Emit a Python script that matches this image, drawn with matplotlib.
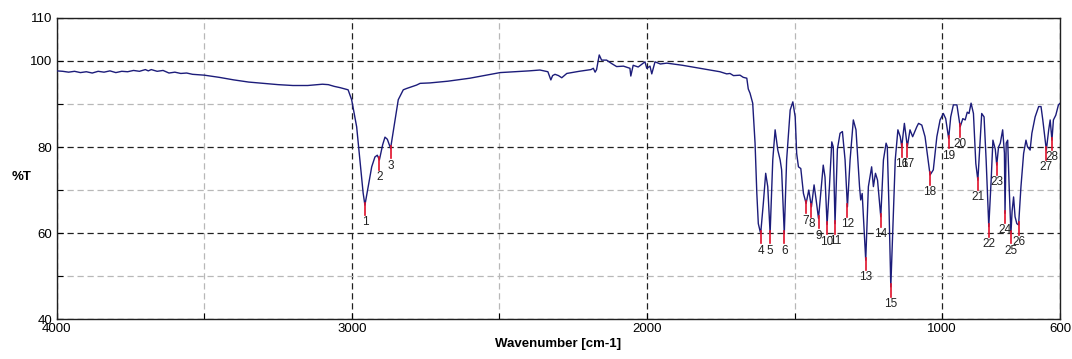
import matplotlib
matplotlib.use("Agg")
import matplotlib.pyplot as plt

#Espectro IR: número de onda (cm-1) y transmitancia (%T)
numeroOnda = [4000, 3980, 3960, 3940, 3920, 3900, 3880, 3860, 3840, 3820, 3800, 3780, 3760, 3740, 3720,
              3700, 3690, 3680, 3660, 3640, 3620, 3600, 3580, 3560, 3540, 3500, 3450, 3400, 3350, 3300,
              3250, 3200, 3150, 3100, 3080, 3060, 3040, 3013, 3001, 2984, 2973, 2962, 2956, 2945, 2933,
              2922, 2914, 2907, 2896, 2888, 2880, 2869, 2854, 2843, 2826, 2815, 2781, 2769, 2736, 2675,
              2600, 2498, 2400, 2363, 2336, 2326, 2320, 2312, 2300, 2289, 2272, 2230, 2190, 2182, 2176,
              2171, 2162, 2154, 2137, 2120, 2103, 2080, 2058, 2055, 2047, 2030, 2007, 2001, 1990, 1984,
              1973, 1955, 1933, 1880, 1820, 1753, 1730, 1719, 1707, 1685, 1674, 1662, 1657, 1651, 1642,
              1634, 1628, 1623, 1615, 1606, 1598, 1591, 1583, 1574, 1566, 1557, 1549, 1544, 1535, 1527,
              1515, 1506, 1498, 1493, 1487, 1479, 1470, 1461, 1452, 1443, 1434, 1427, 1419, 1411, 1403,
              1397, 1390, 1382, 1374, 1369, 1363, 1355, 1346, 1338, 1329, 1321, 1312, 1301, 1292, 1280,
              1276, 1271, 1259, 1250, 1239, 1233, 1226, 1219, 1208, 1199, 1190, 1186, 1180, 1174, 1167,
              1159, 1150, 1142, 1137, 1128, 1118, 1109, 1100, 1086, 1080, 1069, 1058, 1041, 1030, 1018,
              1007, 996, 988, 978, 971, 962, 950, 939, 930, 922, 915, 909, 902, 894, 886,
              879, 871, 866, 858, 851, 842, 834, 828, 820, 815, 809, 803, 795, 789, 787,
              783, 778, 773, 767, 763, 758, 753, 747, 741, 733, 724, 716, 711, 702, 696,
              685, 673, 665, 659, 647, 639, 634, 628, 623, 615, 606, 600]

transmitancia = [97.7, 97.6, 97.4, 97.6, 97.3, 97.5, 97.2, 97.6, 97.4, 97.7, 97.3, 97.6, 97.5, 97.8, 97.6,
                 98.0, 97.7, 98.0, 97.6, 97.8, 97.2, 97.4, 97.1, 97.2, 96.9, 96.7, 96.2, 95.6, 95.1, 94.8,
                 94.5, 94.3, 94.3, 94.6, 94.5, 94.1, 93.8, 93.3, 91.0, 84.7, 77.0, 69.3, 66.5, 70.8, 75.4,
                 77.7, 78.1, 77.0, 80.5, 82.3, 81.8, 79.7, 86.3, 91.0, 93.3, 93.6, 94.4, 94.8, 94.9, 95.3,
                 96.0, 97.3, 97.7, 97.9, 97.5, 95.6, 96.6, 96.9, 96.6, 96.1, 97.1, 97.6, 98.0, 98.3, 97.4,
                 98.0, 101.4, 100.2, 100.2, 99.4, 98.7, 98.8, 98.3, 96.5, 99.0, 98.6, 99.8, 98.3, 98.8, 97.0,
                 99.8, 99.3, 99.5, 99.0, 98.3, 97.5, 97.0, 97.1, 96.6, 96.7, 96.2, 96.0, 93.5, 92.5, 90.2,
                 80.9, 69.2, 62.2, 59.9, 66.9, 73.9, 70.8, 59.9, 77.0, 84.0, 79.3, 77.0, 74.7, 59.9, 77.0,
                 88.6, 90.5, 87.0, 78.5, 75.4, 75.0, 69.2, 66.9, 70.0, 66.1, 71.2, 67.7, 63.4, 69.5, 75.8,
                 73.0, 62.0, 70.8, 81.2, 80.0, 62.2, 79.5, 83.2, 83.6, 77.0, 66.1, 77.0, 86.3, 84.0, 70.8,
                 67.7, 69.2, 53.7, 70.8, 75.4, 70.8, 73.9, 72.3, 63.8, 77.0, 80.9, 80.1, 65.5, 47.5, 61.5,
                 77.0, 84.0, 82.4, 80.1, 85.5, 80.1, 84.0, 82.4, 84.7, 85.5, 85.1, 82.4, 73.5, 74.7, 82.4,
                 86.3, 87.8, 86.6, 82.0, 87.0, 89.8, 89.8, 84.7, 86.6, 86.3, 88.1, 87.8, 90.2, 87.8, 76.2,
                 72.3, 81.6, 87.8, 87.0, 77.0, 61.5, 72.3, 81.6, 79.5, 75.8, 80.0, 80.9, 84.0, 78.6, 64.6,
                 80.9, 81.6, 70.8, 59.9, 65.1, 68.4, 63.8, 62.2, 61.9, 70.8, 78.5, 81.6, 80.1, 79.3, 83.2,
                 87.0, 89.4, 89.4, 86.3, 79.3, 84.0, 86.3, 81.6, 86.3, 87.4, 89.8, 90.2]

#Picos marcados (mínimos de transmitancia)
picoOnda = [2956, 2907, 2869, 1615, 1583, 1535, 1461, 1443, 1419, 1390, 1363, 1321, 1259, 1208,
            1174, 1137, 1118, 1041, 978, 939, 879, 842, 815, 787, 767, 741, 647, 628]
picoT = [66.5, 77.0, 79.7, 59.9, 59.9, 59.9, 66.9, 66.1, 63.4, 62.0, 62.2, 66.1, 53.7, 63.8,
         47.5, 80.1, 80.1, 73.5, 82.0, 84.7, 72.3, 61.5, 75.8, 64.6, 59.9, 61.9, 79.3, 81.6]
picoEtiqueta = [str(i + 1) for i in range(len(picoOnda))]

ticksX = [4000, 3000, 2000, 1000, 600]
ticksXMenor = [3500, 2500, 1500]
ticksY = [40, 60, 80, 100, 110]
ticksYMenor = [50, 70, 90]

fuente = ['Liberation Sans Narrow', 'Liberation Sans', 'DejaVu Sans']
plt.rcParams['font.family'] = fuente

fig = plt.figure(figsize=(10.72, 3.59), dpi=100)
ax = fig.add_axes([0.053, 0.111, 0.936, 0.839])

#Curva del espectro
ax.plot(numeroOnda, transmitancia, color='#1c1c7a', linewidth=1.0, zorder=3)

#Marcas rojas y números de cada pico
for x, y, txt in zip(picoOnda, picoT, picoEtiqueta):
    ax.plot([x, x], [y + 0.6, y - 2.3], color='#e0102a', linewidth=1.2, zorder=4)
    ax.text(x, y - 2.6, txt, ha='center', va='top', fontsize=8.5, color='#222222', zorder=5)

ax.set_xlim(4000, 600)
ax.set_ylim(40, 110)

ax.set_xticks(ticksX)
ax.set_xticks(ticksXMenor, minor=True)
ax.set_yticks(ticksY)
ax.set_yticks(ticksYMenor, minor=True)
ax.tick_params(which='both', direction='in', labelsize=9.5, length=4, width=0.8)
ax.tick_params(axis='x', pad=3)

#Rejilla: principal negra, secundaria gris
ax.grid(which='major', color='#202020', linestyle=(0, (5, 3)), linewidth=0.9)
ax.grid(which='minor', color='#b8b8b8', linestyle=(0, (5, 3)), linewidth=0.9)
ax.set_axisbelow(True)

for s in ax.spines.values():
    s.set_linewidth(1.0)
    s.set_color('#202020')

ax.set_xlabel('Wavenumber [cm-1]', fontsize=9.5, fontweight='bold', labelpad=2)
fig.text(22 / 1072, 1 - 177 / 359, '%T', fontsize=9.5, fontweight='bold', ha='center', va='center')

fig.savefig('out.png', dpi=100)
